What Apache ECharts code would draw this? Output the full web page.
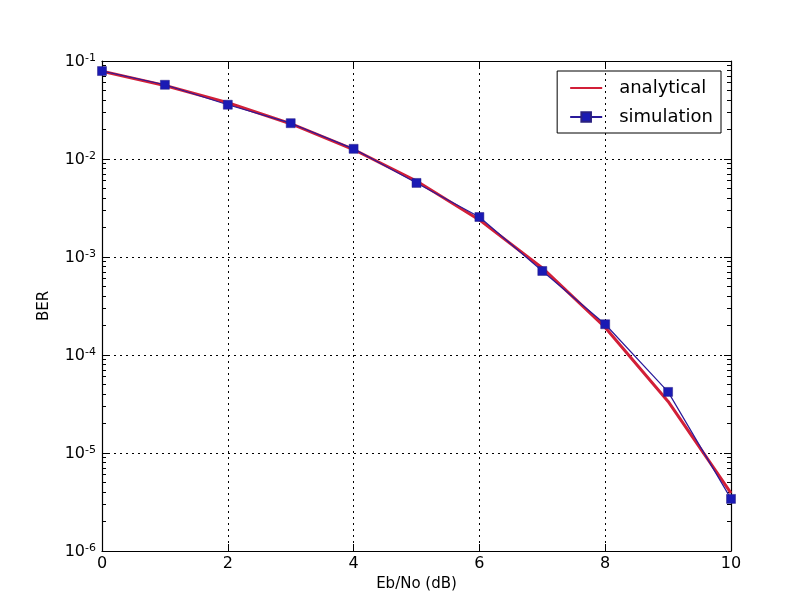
<!DOCTYPE html>
<html>
<head>
<meta charset="utf-8">
<script src="https://cdn.jsdelivr.net/npm/echarts@6/dist/echarts.min.js"></script>
<style>
html, body { margin: 0; padding: 0; background: #fff; }
#chart { width: 812px; height: 612px; }
</style>
</head>
<body>
<div id="chart"></div>
<script>
// Eb/No in dB
var ebno = [0, 1, 2, 3, 4, 5, 6, 7, 8, 9, 10];
// bit error rate
var analytical = [0.0786, 0.0563, 0.0375, 0.0229, 0.0125, 0.00595, 0.00239, 0.000773, 0.000191, 0.0000336, 0.0000039];
var simulation = [0.079, 0.0572, 0.0358, 0.0232, 0.0127, 0.0057, 0.00256, 0.00072, 0.000206, 0.0000420, 0.0000034];

function pairs(xs, ys) {
    var out = [];
    for (var i = 0; i < xs.length; i++) {
        out.push([xs[i], ys[i]]);
    }
    return out;
}

function powLabel(v) {
    var e = Math.round(Math.log10(v));
    return '{b|10}{s|' + e + '}';
}

var font = 'DejaVu Sans';
var labelRich = {
    b: { fontFamily: font, fontSize: 16, color: '#000', verticalAlign: 'bottom', lineHeight: 17 },
    s: { fontFamily: font, fontSize: 11, color: '#000', verticalAlign: 'top', padding: [0, 0, 9, 0], lineHeight: 17 }
};

var gridLine = { show: true, lineStyle: { color: '#000', type: [2, 4], width: 1 } };
var boxLine = { show: true, onZero: false, lineStyle: { color: '#000', width: 1.2 } };

var myChart = echarts.init(document.getElementById('chart'));
var option = {
    backgroundColor: '#fff',
    animation: false,
    grid: { left: 102, right: 81, top: 61, bottom: 61 },
    legend: {
        orient: 'vertical',
        right: 91,
        top: 71,
        padding: [8, 8, 7, 12],
        itemGap: 11,
        itemWidth: 32,
        itemHeight: 12,
        borderColor: '#000',
        borderWidth: 1,
        borderRadius: 0,
        textStyle: { fontFamily: font, fontSize: 18, color: '#000', padding: [0, 0, 0, 12] },
        data: [
            { name: 'analytical', itemStyle: { opacity: 0 } },
            { name: 'simulation' }
        ]
    },
    xAxis: [{
        type: 'value',
        min: 0, max: 10, interval: 2,
        name: 'Eb/No (dB)',
        nameLocation: 'middle',
        nameGap: 25,
        nameTextStyle: { fontFamily: font, fontSize: 15, color: '#000' },
        axisLine: boxLine,
        axisTick: { show: true, inside: true, length: 7, lineStyle: { color: '#000' } },
        axisLabel: { fontFamily: font, fontSize: 16, color: '#000', margin: 5 },
        splitLine: gridLine
    }, {
        type: 'value',
        position: 'top',
        min: 0, max: 10, interval: 2,
        axisLine: boxLine,
        axisTick: { show: true, inside: true, length: 7, lineStyle: { color: '#000' } },
        axisLabel: { show: false },
        splitLine: { show: false }
    }],
    yAxis: [{
        type: 'log',
        logBase: 10,
        min: 1e-6, max: 0.1,
        name: 'BER',
        nameLocation: 'middle',
        nameGap: 50,
        nameTextStyle: { fontFamily: font, fontSize: 15, color: '#000' },
        axisLine: boxLine,
        axisTick: { show: true, inside: true, length: 7, lineStyle: { color: '#000' } },
        minorTick: { show: true, splitNumber: 9, length: 4, lineStyle: { color: '#000' } },
        axisLabel: { formatter: powLabel, rich: labelRich, margin: 6 },
        splitLine: gridLine
    }, {
        type: 'log',
        logBase: 10,
        position: 'right',
        min: 1e-6, max: 0.1,
        axisLine: boxLine,
        axisTick: { show: true, inside: true, length: 7, lineStyle: { color: '#000' } },
        minorTick: { show: true, splitNumber: 9, length: 4, lineStyle: { color: '#000' } },
        axisLabel: { show: false },
        splitLine: { show: false }
    }],
    series: [{
        name: 'analytical',
        type: 'line',
        data: pairs(ebno, analytical),
        showSymbol: false,
        symbol: 'none',
        lineStyle: { color: '#d21f38', width: 3 },
        itemStyle: { color: '#d21f38' },
        z: 2
    }, {
        name: 'simulation',
        type: 'line',
        data: pairs(ebno, simulation),
        symbol: 'rect',
        symbolSize: 9,
        lineStyle: { color: '#2a1a9a', width: 1.2 },
        itemStyle: { color: '#1a1ab4', borderColor: '#2a2080', borderWidth: 0.5 },
        z: 3
    }]
};
myChart.setOption(option);
</script>
</body>
</html>
